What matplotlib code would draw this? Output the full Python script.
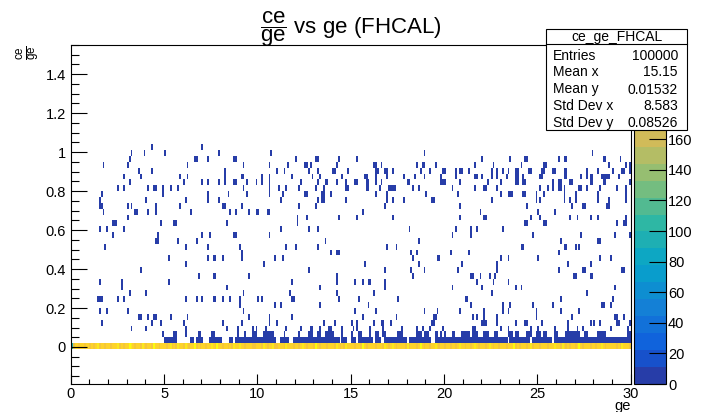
import numpy as np
import matplotlib
matplotlib.use("Agg")
import matplotlib.pyplot as plt
from matplotlib.colors import ListedColormap, BoundaryNorm, LinearSegmentedColormap
from matplotlib.ticker import MultipleLocator, FuncFormatter
from matplotlib.patches import Rectangle
from matplotlib.lines import Line2D

plt.rcParams['font.family'] = ['Liberation Sans', 'DejaVu Sans']
plt.rcParams['mathtext.fontset'] = 'custom'
plt.rcParams['mathtext.rm'] = 'Liberation Sans'
plt.rcParams['mathtext.it'] = 'Liberation Sans:italic'
plt.rcParams['mathtext.bf'] = 'Liberation Sans:bold'
plt.rcParams['mathtext.sf'] = 'Liberation Sans'

# ---------------- data ----------------
x_lo, x_hi, n_x = 0.0, 30.0, 300
y_lo, y_hi, n_y = -0.19, 1.55, 58
z_max = 221.6
n_contours = 20
base_bin = 6  # y bin holding ce/ge = 0

stats_title = "ce_ge_FHCAL"
stats_labels = ["Entries", "Mean x", "Mean y", "Std Dev x", "Std Dev y"]
stats_values = ["100000", "15.15", "0.01532", "8.583", "0.08526"]

z_ticks = [0, 20, 40, 60, 80, 100, 120, 140, 160, 180, 200, 220]
z_label_max = 160  # labels above this sit under the stats box

# counts in the ce/ge = 0 row, one per ge bin of 0.1
base_counts = [
    95, 176, 189, 193, 186, 198, 191, 184, 195, 190,
    188, 196, 183, 192, 201, 187, 194, 190, 185, 199,
    192, 186, 197, 189, 193, 205, 188, 191, 184, 196,
    190, 212, 207, 193, 187, 198, 191, 186, 202, 194,
    185, 193, 199, 188, 214, 195, 190, 183, 197, 189,
    196, 188, 192, 204, 187, 193, 185, 209, 198, 191,
    187, 200, 193, 186, 195, 190, 211, 188, 194, 183,
    198, 191, 185, 196, 189, 203, 192, 187, 216, 193,
    190, 184, 197, 192, 188, 195, 186, 201, 191, 197,
    206, 189, 193, 185, 199, 190, 194, 188, 183, 196,
    192, 198, 187, 210, 193, 186, 195, 190, 202, 188,
    185, 194, 191, 197, 183, 205, 189, 196, 192, 187,
    199, 190, 186, 193, 208, 191, 184, 197, 189, 194,
    188, 213, 195, 187, 192, 199, 190, 185, 196, 191,
    194, 186, 201, 190, 184, 195, 188, 207, 193, 189,
    197, 191, 188, 194, 199, 186, 212, 192, 185, 198,
    189, 196, 192, 183, 197, 190, 194, 188, 203, 191,
    186, 193, 208, 191, 187, 195, 189, 198, 192, 184,
    200, 188, 194, 190, 196, 185, 191, 215, 193, 187,
    192, 197, 186, 193, 189, 204, 195, 188, 191, 196,
    188, 191, 199, 185, 194, 190, 187, 196, 210, 192,
    195, 184, 192, 198, 188, 193, 201, 189, 186, 194,
    190, 197, 187, 191, 206, 195, 188, 192, 197, 185,
    193, 189, 196, 184, 191, 199, 190, 211, 187, 195,
    186, 194, 190, 197, 185, 192, 203, 188, 194, 190,
    198, 187, 193, 189, 196, 184, 191, 197, 190, 208,
    191, 195, 186, 200, 192, 188, 194, 187, 199, 193,
    185, 192, 214, 190, 187, 196, 189, 193, 186, 197,
    194, 188, 191, 195, 202, 190, 185, 198, 192, 189,
    190, 196, 187, 193, 188, 205, 194, 191, 197, 186,
]

# ge ranges filled in the first two rows above zero
row1_segments = [(5.0, 5.65), (6.4, 6.5), (6.73, 7.0), (7.44, 7.7), (7.8, 8.0), (8.5, 8.6),
                 (8.8, 9.05), (9.14, 9.85), (9.93, 10.9), (11.25, 11.65), (11.95, 14.3),
                 (14.55, 14.75), (15.0, 15.2), (15.45, 16.1), (16.35, 16.5), (16.8, 17.9),
                 (18.15, 19.2), (19.55, 23.35), (23.55, 24.55), (24.75, 25.75), (25.95, 29.95)]
row2_segments = [(4.97, 4.97), (5.5, 5.65), (6.14, 6.14), (6.8, 6.9), (7.5, 7.65), (8.95, 8.95),
                 (9.3, 9.3), (9.76, 9.85), (9.95, 9.95), (10.3, 10.85), (11.45, 11.45), (12.2, 12.2),
                 (12.7, 12.9), (13.2, 13.3), (13.6, 14.0), (14.55, 14.55), (15.05, 15.05),
                 (15.4, 15.5), (16.0, 16.0), (16.3, 16.45), (16.7, 16.8), (17.5, 17.7),
                 (18.5, 18.75), (18.9, 19.1), (19.5, 19.6), (19.85, 19.85), (20.0, 20.0),
                 (20.4, 20.5), (20.9, 21.3), (21.55, 21.75), (22.15, 22.3), (22.7, 22.8),
                 (23.4, 23.65), (23.85, 23.95), (24.45, 24.65), (24.9, 25.15), (25.3, 25.4),
                 (25.9, 26.0), (26.55, 26.85), (26.95, 27.2), (27.5, 27.6), (28.2, 28.6), (29.8, 29.9)]

# sparse single-entry cells: row number above zero -> ge values
sparse_cells = [
    (34, [4.3, 7.05]),
    (33, [3.24, 3.92, 5.08, 7.98, 10.78, 18.9, 27.95]),
    (32, [3.1, 6.6, 6.7, 7.35, 8.7, 8.8, 12.03, 13.1, 13.2, 14.39, 15.34, 22.05, 23.57, 24.3,
          24.4, 26.1, 26.4, 26.5, 28.5, 28.6, 29.4]),
    (31, [1.78, 3.0, 6.28, 9.28, 10.64, 11.68, 12.5, 12.6, 12.87, 14.21, 16.2, 16.3, 16.68, 18.5,
          18.8, 18.9, 19.57, 21.6, 22.68, 24.16, 25.3, 25.4, 28.87, 29.79, 29.9]),
    (30, [3.6, 4.3, 8.2, 11.0, 11.45, 12.75, 13.23, 14.0, 14.1, 14.84, 16.3, 16.4, 16.8, 16.9,
          17.25, 18.7, 19.2, 19.9, 20.0, 20.6, 20.85, 20.95, 21.34, 22.55, 22.86, 23.1, 23.4,
          23.8, 23.9, 24.5, 24.6, 25.2, 25.3, 25.85, 25.95, 26.45, 26.55, 27.64, 28.2, 29.0,
          29.55, 29.65, 29.9]),
    (29, [2.85, 3.74, 5.87, 6.28, 8.2, 9.1, 9.2, 10.28, 10.6, 11.85, 12.96, 13.35, 14.57, 15.7,
          15.8, 16.3, 16.98, 17.87, 18.4, 18.94, 19.84, 20.6, 21.65, 21.75, 22.05, 22.5, 22.86,
          23.3, 23.8, 23.9, 24.29, 25.15, 25.25, 26.45, 26.55, 27.32, 27.64, 27.8, 27.9, 28.4,
          28.5, 28.6, 28.7, 28.8, 29.3]),
    (28, [3.12, 6.0, 7.05, 7.35, 7.98, 8.2, 8.7, 8.8, 9.44, 9.99, 10.28, 10.6, 12.3, 13.23, 13.6,
          13.7, 14.27, 14.71, 15.2, 15.3, 15.8, 15.9, 16.3, 16.68, 18.0, 18.1, 19.8, 19.9, 20.05,
          20.86, 22.32, 23.0, 23.8, 23.9, 24.25, 24.35, 25.8, 26.15, 26.25, 26.7, 26.8, 27.8,
          27.9, 28.5, 28.6, 29.9]),
    (27, [2.56, 2.85, 4.19, 4.4, 4.5, 4.97, 5.39, 5.74, 9.28, 10.6, 11.14, 11.53, 12.21, 13.19,
          13.5, 14.7, 14.8, 15.8, 15.9, 16.53, 17.0, 17.1, 17.2, 17.3, 18.32, 18.68, 20.41, 21.6,
          22.15, 22.25, 22.86, 25.1, 25.53, 25.8, 26.15, 26.25, 26.4, 27.2, 27.3, 27.68, 28.36,
          29.25, 29.73]),
    (26, [1.64, 4.97, 7.35, 8.42, 9.44, 10.6, 11.35, 12.5, 12.6, 13.4, 13.5, 13.94, 16.35, 16.95,
          19.07, 20.71, 23.0, 23.4, 23.5, 23.6, 24.2, 24.3, 24.9, 25.36, 26.4, 27.02, 28.27, 29.73]),
    (25, [1.5, 4.05, 6.14, 7.35, 7.98, 11.26, 13.23, 13.4, 13.5, 14.71, 16.95, 17.25, 17.84, 19.3,
          19.4, 22.55, 24.9, 25.18, 26.4, 26.79, 27.02, 28.21, 28.87, 29.73]),
    (24, [1.5, 1.64, 3.0, 3.24, 4.5, 5.87, 8.1, 8.2, 9.14, 12.21, 13.1, 16.8, 20.86, 24.46, 26.84,
          27.4, 27.5, 28.71, 28.87]),
    (23, [1.78, 3.45, 3.55, 4.19, 4.5, 6.42, 8.5, 8.87, 9.58, 9.94, 10.0, 10.5, 10.6, 15.6, 21.93,
          25.05, 25.95]),
    (22, [3.0, 12.16, 12.6, 14.39, 15.34, 17.28, 20.86, 22.15, 22.25, 24.64, 25.18, 26.75, 27.14,
          27.8, 28.21, 29.73]),
    (21, [2.25, 2.35, 2.45, 4.81, 5.5, 5.6, 8.39, 12.16, 24.3, 24.4, 25.3, 25.4, 29.25, 29.6, 29.7]),
    (20, [1.55, 1.96, 2.85, 11.26, 12.75, 13.23, 18.18, 20.63, 21.48, 21.79, 23.13]),
    (19, [2.23, 4.67, 7.08, 7.49, 8.7, 8.8, 10.64, 20.45, 21.48, 24.79, 27.32, 29.1, 29.9]),
    (18, [4.5, 4.6, 5.74, 6.78, 13.64, 18.64, 26.25, 28.2, 28.3]),
    (17, [1.8, 6.14, 7.35, 9.01, 11.53, 12.03, 13.23, 16.95, 17.43, 24.1, 24.2, 26.4, 26.5, 27.02,
          27.29]),
    (16, [9.14, 13.94, 14.25, 14.35, 18.28, 18.5, 20.32, 21.34, 26.13]),
    (15, [5.21, 7.35, 7.6, 7.7, 8.12, 9.14, 10.96, 11.35, 18.32, 19.6, 19.7, 23.0, 23.45, 25.05,
          28.36, 28.98]),
    (14, [6.14, 10.37, 15.73, 18.64, 20.98, 22.86, 26.6, 27.8]),
    (13, [3.78, 12.75, 16.8, 18.23, 18.9, 20.71, 22.86, 26.13, 27.4, 27.5, 29.5, 29.6]),
    (12, [6.87, 7.6, 7.7, 9.58, 14.27, 18.32, 21.43, 21.53, 21.93, 22.41, 22.77, 26.9, 27.0, 27.8,
          27.9]),
    (11, [1.55, 2.7, 5.21, 11.85, 14.27, 15.2, 15.6, 15.9, 16.0, 16.8, 21.79, 22.68, 23.45]),
    (10, [2.7, 8.39, 13.35, 16.8, 20.45, 22.05, 23.89, 24.16, 29.16]),
    (9, [3.12, 4.05, 9.28, 11.7, 14.27, 16.23, 22.55, 27.68]),
    (8, [1.4, 1.5, 1.64, 2.56, 2.85, 6.14, 6.73, 7.05, 7.6, 7.7, 8.12, 8.55, 9.01, 10.0, 10.25,
         11.8, 11.9, 14.39, 15.46, 17.57, 21.15, 21.25, 26.25, 29.02]),
    (7, [9.01, 10.96, 11.26, 13.35, 15.9, 21.48, 23.13, 23.57, 24.79, 25.86, 28.45, 28.55, 28.9]),
    (6, [1.55, 1.96, 3.0, 9.28, 15.28, 16.35, 18.9, 19.66, 20.86, 22.1, 23.18, 23.45, 24.91,
         26.25, 27.2]),
    (5, [3.65, 3.75, 4.19, 4.45, 4.55, 5.39, 6.28, 9.58, 10.64, 11.85, 15.6, 17.43, 19.45, 19.55,
         21.52, 21.79, 22.1, 22.86, 24.91, 26.88, 29.1, 29.2, 29.6]),
    (4, [1.64, 4.31, 4.81, 6.0, 8.12, 9.14, 10.64, 11.09, 13.5, 14.18, 15.0, 15.34, 16.21, 16.6,
         16.7, 17.16, 19.3, 19.4, 22.0, 22.1, 22.2, 22.86, 23.89, 24.3, 24.4, 25.23, 26.6, 27.8,
         28.09, 28.36, 29.25, 29.35, 29.9]),
    (3, [3.24, 4.05, 6.14, 8.39, 8.95, 9.76, 9.95, 10.46, 11.53, 12.34, 12.85, 12.95, 13.32,
         13.85, 13.95, 14.57, 15.1, 15.37, 16.0, 16.71, 17.7, 18.5, 18.85, 19.2, 19.9, 21.5, 21.6,
         23.04, 23.45, 24.6, 25.0, 25.9, 26.6, 27.1, 27.46, 28.9, 29.82]),
]

# ---------------- build histogram ----------------
x_edges = np.linspace(x_lo, x_hi, n_x + 1)
y_edges = np.linspace(y_lo, y_hi, n_y + 1)
H = np.zeros((n_y, n_x))


def xbin(v):
    return int(np.clip(np.floor(v * n_x / (x_hi - x_lo) + 1e-6), 0, n_x - 1))


H[base_bin, :] = base_counts
for seg_list, r, cnt in ((row1_segments, 1, 3), (row2_segments, 2, 1)):
    for a, b in seg_list:
        for i in range(xbin(a), xbin(b) + 1):
            H[base_bin + r, i] += cnt
for r, xs in sparse_cells:
    for v in xs:
        H[base_bin + r, xbin(v)] += 1

Hm = np.ma.masked_equal(H, 0)

# ROOT kBird palette
bird_r = [0.2082, 0.0592, 0.0780, 0.0232, 0.1802, 0.5301, 0.8186, 0.9956, 0.9764]
bird_g = [0.1664, 0.3599, 0.5041, 0.6419, 0.7178, 0.7492, 0.7328, 0.7862, 0.9832]
bird_b = [0.5293, 0.8684, 0.8385, 0.7914, 0.6425, 0.4662, 0.3499, 0.1968, 0.0539]
bird = LinearSegmentedColormap.from_list(
    'bird', list(zip(np.linspace(0, 1, 9), zip(bird_r, bird_g, bird_b))), N=255)
cmap = ListedColormap([bird((i + 0.99) / n_contours) for i in range(n_contours)])
levels = np.linspace(0, z_max, n_contours + 1)
norm = BoundaryNorm(levels, n_contours)

# ---------------- figure ----------------
W, Hpx = 707, 412
fig = plt.figure(figsize=(W / 100, Hpx / 100), dpi=100)
fl, fr, ft, fb = 70.8, 630.7, 45, 384
ax = fig.add_axes([fl / W, 1 - fb / Hpx, (fr - fl) / W, (fb - ft) / Hpx])
mesh = ax.pcolormesh(x_edges, y_edges, Hm, cmap=cmap, norm=norm, shading='flat',
                     edgecolors='none', antialiased=False)
ax.set_xlim(x_lo, x_hi)
ax.set_ylim(y_lo, y_hi)

ax.xaxis.set_major_locator(MultipleLocator(5))
ax.xaxis.set_minor_locator(MultipleLocator(1))
ax.yaxis.set_major_locator(MultipleLocator(0.2))
ax.yaxis.set_minor_locator(MultipleLocator(0.05))


def gfmt(v, p):
    v = round(v, 6)
    if v == 0:
        return "0"
    return f"{v:g}"


ax.yaxis.set_major_formatter(FuncFormatter(gfmt))
ax.tick_params(axis='both', which='both', direction='in', top=False, right=False, width=0.8,
               labelsize=10.5)
ax.tick_params(axis='y', which='major', length=11.5, pad=3.5)
ax.tick_params(axis='y', which='minor', length=5.8)
ax.tick_params(axis='x', which='major', length=7.2, pad=2.5)
ax.tick_params(axis='x', which='minor', length=3.6)
for s in ax.spines.values():
    s.set_linewidth(0.8)

ax.set_xlabel("ge", fontsize=10.5, loc='right')
ax.xaxis.set_label_coords(1.0, -0.045)
ax.set_ylabel(r"$\frac{\mathrm{ce}}{\mathrm{ge}}$", fontsize=12, loc='top')
ax.yaxis.set_label_coords(-0.05, 1.0)

# colour bar
cax = fig.add_axes([634 / W, 1 - fb / Hpx, 32 / W, (fb - ft) / Hpx])
cb = fig.colorbar(mesh, cax=cax, ticks=z_ticks)
cb.minorticks_off()
cb.outline.set_linewidth(0.8)
cax.yaxis.set_major_formatter(FuncFormatter(lambda v, p: f"{v:g}" if v <= z_label_max + 1e-6 else ""))
cax.tick_params(direction='in', length=12, width=0.8, labelsize=10.5, pad=1.5,
                right=True, left=False)

# title
fig.text((fl + fr) / 2 / W, 1 - 33.3 / Hpx, r"$\dfrac{\mathrm{ce}}{\mathrm{ge}}$ vs ge (FHCAL)",
         ha='center', va='baseline', fontsize=16)

# stats box
bl, br, bt, bb = 546, 687, 29, 130
fig.add_artist(Rectangle((bl / W, 1 - bb / Hpx), (br - bl) / W, (bb - bt) / Hpx,
                         transform=fig.transFigure, facecolor='white', edgecolor='black',
                         lw=0.8, zorder=10))
fig.add_artist(Line2D([bl / W, br / W], [1 - 44 / Hpx, 1 - 44 / Hpx],
                      transform=fig.transFigure, color='black', lw=0.8, zorder=11))
fig.text((bl + br) / 2 / W, 1 - 36.5 / Hpx, stats_title, ha='center', va='center',
         fontsize=10, zorder=12)
row_y = [55.5, 72.5, 89.5, 106.5, 123.5]
for lab, val, yy in zip(stats_labels, stats_values, row_y):
    fig.text(553 / W, 1 - yy / Hpx, lab, ha='left', va='center', fontsize=10, zorder=12)
    fig.text(678 / W, 1 - yy / Hpx, val, ha='right', va='center', fontsize=10, zorder=12)

fig.savefig("out.png", dpi=100)
